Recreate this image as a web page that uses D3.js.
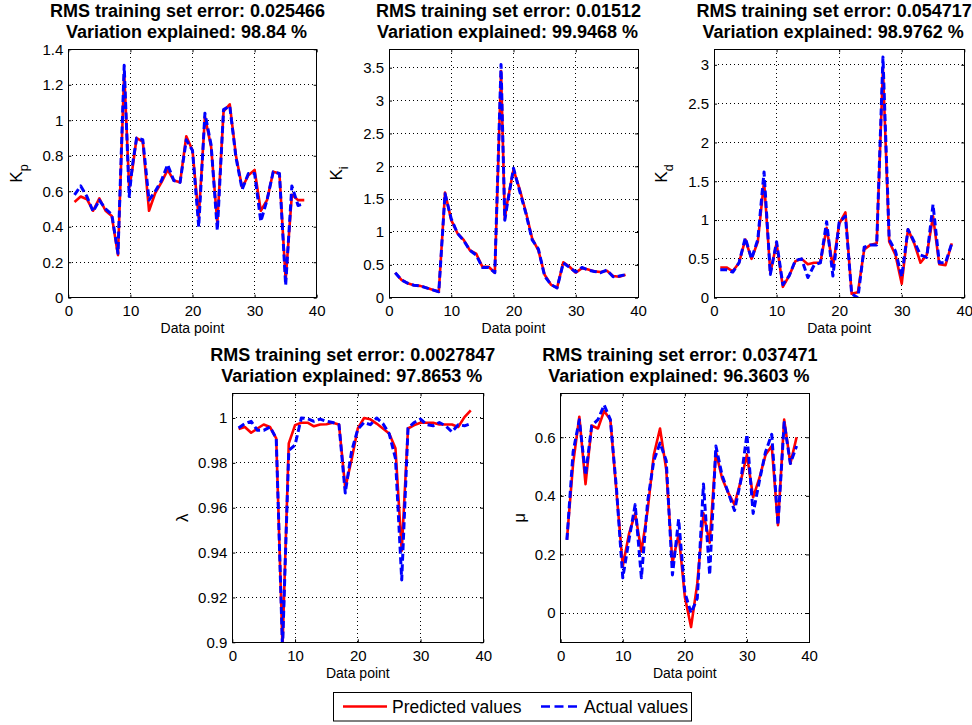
<!DOCTYPE html>
<html><head><meta charset="utf-8">
<script src="https://cdn.jsdelivr.net/npm/d3@7/dist/d3.min.js"></script>
<style>
body{margin:0;background:#fff}
svg text{font-family:"Liberation Sans",Arial,Helvetica,sans-serif;fill:#000}
</style>
</head><body>
<svg id="chart" width="972" height="725"></svg>
<script>
// ---------------- data ----------------
const xTickValues = [0, 10, 20, 30, 40];
const xTickLabels = ["0", "10", "20", "30", "40"];
const seriesNames = ["Predicted values", "Actual values"];

// K_p
const kpX    = [1,2,3,4,5,6,7,8,9,9.8,10.3,11,12,13,14,15,16,17,18,19,20,21,22,23,24,25,26,27,28,29,30,31,32,33,34,35,36,37,38];
const kpPred = [0.54,0.57,0.555,0.49,0.56,0.49,0.46,0.24,1.27,0.62,0.72,0.9,0.88,0.49,0.59,0.65,0.72,0.66,0.65,0.91,0.83,0.45,1.02,0.85,0.42,1.05,1.09,0.8,0.62,0.69,0.72,0.49,0.55,0.71,0.7,0.1,0.58,0.55,0.55];
const kpAct  = [0.58,0.63,0.57,0.485,0.55,0.5,0.47,0.25,1.31,0.57,0.74,0.9,0.89,0.55,0.6,0.66,0.75,0.66,0.65,0.89,0.83,0.4,1.04,0.86,0.38,1.06,1.08,0.79,0.61,0.7,0.7,0.43,0.55,0.71,0.7,0.07,0.63,0.52,0.53];
const kpTicks = [0,0.2,0.4,0.6,0.8,1,1.2,1.4];
const kpTickLabels = ["0","0.2","0.4","0.6","0.8","1","1.2","1.4"];

// K_i
const kiX    = [1,2,3,4,5,6,7,8,9,10,11,12,13,14,15,16,17,18,18.6,19,20,21,22,23,24,25,26,27,28,29,30,31,32,33,34,35,36,37,38];
const kiPred = [0.38,0.27,0.22,0.19,0.18,0.15,0.12,0.09,1.6,1.18,0.98,0.88,0.72,0.67,0.47,0.47,0.38,3.45,1.2,1.45,1.95,1.65,1.3,0.9,0.72,0.35,0.2,0.15,0.54,0.47,0.38,0.45,0.43,0.4,0.39,0.41,0.33,0.32,0.35];
const kiAct  = [0.38,0.27,0.22,0.19,0.18,0.15,0.12,0.09,1.58,1.2,0.98,0.87,0.72,0.65,0.46,0.46,0.38,3.55,1.18,1.42,1.97,1.62,1.28,0.88,0.74,0.33,0.2,0.15,0.53,0.46,0.39,0.46,0.42,0.4,0.38,0.42,0.32,0.33,0.35];
const kiTicks = [0,0.5,1,1.5,2,2.5,3,3.5];
const kiTickLabels = ["0","0.5","1","1.5","2","2.5","3","3.5"];

// K_d
const kdX    = [1,2,3,4,5,6,7,8,9,10,11,12,13,14,15,16,17,18,19,20,21,22,23,24,25,26,27,28,29,30,31,32,33,34,35,36,37,38];
const kdPred = [0.39,0.39,0.34,0.45,0.75,0.5,0.72,1.5,0.32,0.7,0.14,0.28,0.47,0.5,0.43,0.45,0.45,0.9,0.4,0.95,1.1,0.05,0.07,0.62,0.68,0.7,2.95,0.72,0.55,0.18,0.88,0.7,0.45,0.55,1.05,0.43,0.42,0.7];
const kdAct  = [0.36,0.36,0.33,0.45,0.77,0.5,0.75,1.62,0.3,0.72,0.17,0.28,0.48,0.5,0.26,0.42,0.45,0.98,0.28,0.97,1.05,0.05,0.0,0.65,0.68,0.68,3.1,0.75,0.6,0.27,0.88,0.72,0.55,0.52,1.2,0.45,0.45,0.7];
const kdTicks = [0,0.5,1,1.5,2,2.5,3];
const kdTickLabels = ["0","0.5","1","1.5","2","2.5","3"];

// lambda
const lamX    = [1,2,3,4,5,6,7,8,9,10,11,12,13,14,15,16,17,18,19,20,21,22,23,24,25,26,27,28,29,30,31,32,33,34,35,36,37,38];
const lamPred = [0.9951,0.996,0.9934,0.9953,0.9971,0.996,0.9909,0.898,0.9887,0.9968,0.9979,0.9979,0.9963,0.9971,0.9972,0.9979,0.9971,0.9688,0.9813,0.9953,1.0,0.9994,0.9975,0.9953,0.9931,0.9865,0.9408,0.9953,0.9968,0.9979,0.9979,0.9979,0.9971,0.9971,0.9971,0.996,1.0004,1.0034];
const lamAct  = [0.9955,0.9975,0.9985,0.9945,0.9945,0.996,0.991,0.897,0.9855,0.988,1.0,0.9997,0.9985,0.9995,0.9985,0.998,0.997,0.9666,0.985,0.995,0.998,0.997,1.0,0.9975,0.993,0.982,0.9278,0.9955,0.998,0.9995,0.997,0.9965,0.998,0.9965,0.9938,0.997,0.9965,0.9975];
const lamTicks = [0.9,0.92,0.94,0.96,0.98,1];
const lamTickLabels = ["0.9","0.92","0.94","0.96","0.98","1"];

// mu
const muX    = [1,2,3,4,5,6,7,8,9,10,11,12,13,14,15,16,17,18,19,20,21,22,23,24,25,26,27,28,29,30,31,32,33,34,35,36,37,38];
const muPred = [0.25,0.51,0.67,0.44,0.64,0.63,0.69,0.66,0.41,0.16,0.27,0.34,0.21,0.35,0.54,0.63,0.49,0.17,0.27,0.055,-0.048,0.1,0.34,0.24,0.55,0.46,0.41,0.37,0.45,0.54,0.395,0.46,0.54,0.57,0.3,0.66,0.51,0.6];
const muAct  = [0.25,0.55,0.66,0.47,0.64,0.66,0.71,0.66,0.42,0.12,0.25,0.37,0.12,0.38,0.52,0.58,0.52,0.13,0.32,0.07,0.0,0.05,0.44,0.13,0.57,0.47,0.41,0.35,0.45,0.61,0.34,0.45,0.55,0.61,0.3,0.65,0.51,0.57];
const muTicks = [0,0.2,0.4,0.6];
const muTickLabels = ["0","0.2","0.4","0.6"];

// ---------------- layout ----------------
const panels = [
  {t1:"RMS training set error: 0.025466", t2:"Variation explained: 98.84 %", xs:kpX, pred:kpPred, act:kpAct,
   ticks:kpTicks, tickLabels:kpTickLabels, yDom:[0,1.4], lab:"K", sub:"p",
   box:{l:68.3,t:49.3,r:316.7,b:297.7}, labX:22},
  {t1:"RMS training set error: 0.01512", t2:"Variation explained: 99.9468 %", xs:kiX, pred:kiPred, act:kiAct,
   ticks:kiTicks, tickLabels:kiTickLabels, yDom:[0,3.78], lab:"K", sub:"i",
   box:{l:389,t:49.3,r:638,b:297.7}, labX:342},
  {t1:"RMS training set error: 0.054717", t2:"Variation explained: 98.9762 %", xs:kdX, pred:kdPred, act:kdAct,
   ticks:kdTicks, tickLabels:kdTickLabels, yDom:[0,3.2], lab:"K", sub:"d",
   box:{l:714,t:49.3,r:964.3,b:297.7}, labX:667},
  {t1:"RMS training set error: 0.0027847", t2:"Variation explained: 97.8653 %", xs:lamX, pred:lamPred, act:lamAct,
   ticks:lamTicks, tickLabels:lamTickLabels, yDom:[0.9,1.011], lab:"\u03bb", sub:null,
   box:{l:232.3,t:393.3,r:483.3,b:642.3}, labX:188},
  {t1:"RMS training set error: 0.037471", t2:"Variation explained: 96.3603 %", xs:muX, pred:muPred, act:muAct,
   ticks:muTicks, tickLabels:muTickLabels, yDom:[-0.1,0.75], lab:"\u03bc", sub:null,
   box:{l:560.7,t:393.3,r:809,b:642.3}, labX:525}
];

const svg = d3.select("#chart");
svg.append("rect").attr("width",972).attr("height",725).attr("fill","#fff");

panels.forEach((p, i) => {
  const b = p.box, w = b.r - b.l, h = b.b - b.t;
  const g = svg.append("g").attr("transform", `translate(${b.l},${b.t})`);
  const x = d3.scaleLinear().domain([0, 40]).range([0, w]);
  const y = d3.scaleLinear().domain(p.yDom).range([h, 0]);

  g.append("rect").attr("width", w).attr("height", h).attr("fill", "#fff");

  // grid
  const grid = g.append("g").attr("stroke", "#000").attr("stroke-width", 1)
    .attr("stroke-dasharray", "1,3").attr("shape-rendering", "crispEdges");
  xTickValues.slice(1, -1).forEach(v => {
    grid.append("line").attr("x1", x(v)).attr("x2", x(v)).attr("y1", 0).attr("y2", h);
  });
  p.ticks.forEach(v => {
    const yy = y(v);
    if (yy > 1 && yy < h - 1)
      grid.append("line").attr("x1", 0).attr("x2", w).attr("y1", yy).attr("y2", yy);
  });

  // lines (clipped)
  const clipId = "clip" + i;
  g.append("clipPath").attr("id", clipId).append("rect").attr("width", w).attr("height", h);
  const line = d3.line().x(d => x(d[0])).y(d => y(d[1]));
  const lg = g.append("g").attr("clip-path", `url(#${clipId})`);
  lg.append("path").datum(p.xs.map((v, k) => [v, p.pred[k]]))
    .attr("d", line).attr("fill", "none").attr("stroke", "#ff0000").attr("stroke-width", 2.6)
    .attr("stroke-linejoin", "round");
  lg.append("path").datum(p.xs.map((v, k) => [v, p.act[k]]))
    .attr("d", line).attr("fill", "none").attr("stroke", "#0000ff").attr("stroke-width", 3)
    .attr("stroke-dasharray", "7,3.5").attr("stroke-linejoin", "round");

  // axes
  const fmtY = (d, k) => p.tickLabels[k];
  const fmtX = (d, k) => xTickLabels[k];
  const ax = g.append("g").attr("transform", `translate(0,${h})`)
    .call(d3.axisBottom(x).tickValues(xTickValues).tickFormat(fmtX).tickSizeInner(-3).tickSizeOuter(0).tickPadding(8));
  const ay = g.append("g")
    .call(d3.axisLeft(y).tickValues(p.ticks).tickFormat(fmtY).tickSizeInner(-3).tickSizeOuter(0).tickPadding(5));
  const at = g.append("g")
    .call(d3.axisTop(x).tickValues(xTickValues).tickFormat("").tickSizeInner(-3).tickSizeOuter(0));
  const ar = g.append("g").attr("transform", `translate(${w},0)`)
    .call(d3.axisRight(y).tickValues(p.ticks).tickFormat("").tickSizeInner(-3).tickSizeOuter(0));
  [ax, ay, at, ar].forEach(a => {
    a.select(".domain").remove();
    a.selectAll("line").attr("stroke", "#000");
    a.selectAll("text").attr("font-size", 15).attr("font-family", null).attr("fill", "#000");
  });

  g.append("rect").attr("width", w).attr("height", h).attr("fill", "none")
    .attr("stroke", "#000").attr("stroke-width", 1).attr("shape-rendering", "crispEdges");

  // titles
  g.append("text").attr("x", w / 2 - 5).attr("y", -32.5).attr("text-anchor", "middle")
    .attr("font-size", 18).attr("font-weight", "bold").text(p.t1);
  g.append("text").attr("x", w / 2 - 6).attr("y", -11.8).attr("text-anchor", "middle")
    .attr("font-size", 18).attr("font-weight", "bold").text(p.t2);

  // x label
  g.append("text").attr("x", w / 2).attr("y", h + 35.5).attr("text-anchor", "middle")
    .attr("font-size", 14).text("Data point");

  // y label
  const yl = svg.append("text")
    .attr("transform", `translate(${p.labX},${b.t + h / 2}) rotate(-90)`)
    .attr("text-anchor", "middle").attr("font-size", 17).text(p.lab);
  if (p.sub) yl.append("tspan").attr("dy", 6).attr("font-size", 12.5).text(p.sub);
});

// legend
const leg = svg.append("g");
leg.append("rect").attr("x", 333.5).attr("y", 692.5).attr("width", 358).attr("height", 28.5)
  .attr("fill", "#fff").attr("stroke", "#000").attr("stroke-width", 1);
leg.append("line").attr("x1", 343).attr("x2", 387).attr("y1", 706.5).attr("y2", 706.5)
  .attr("stroke", "#ff0000").attr("stroke-width", 2.4);
leg.append("text").attr("x", 392).attr("y", 712.5).attr("font-size", 17.5).text(seriesNames[0]);
leg.append("line").attr("x1", 541).attr("x2", 577).attr("y1", 706.5).attr("y2", 706.5)
  .attr("stroke", "#0000ff").attr("stroke-width", 2.4).attr("stroke-dasharray", "9,4.5");
leg.append("text").attr("x", 584).attr("y", 712.5).attr("font-size", 17.5).text(seriesNames[1]);
</script>
</body></html>
